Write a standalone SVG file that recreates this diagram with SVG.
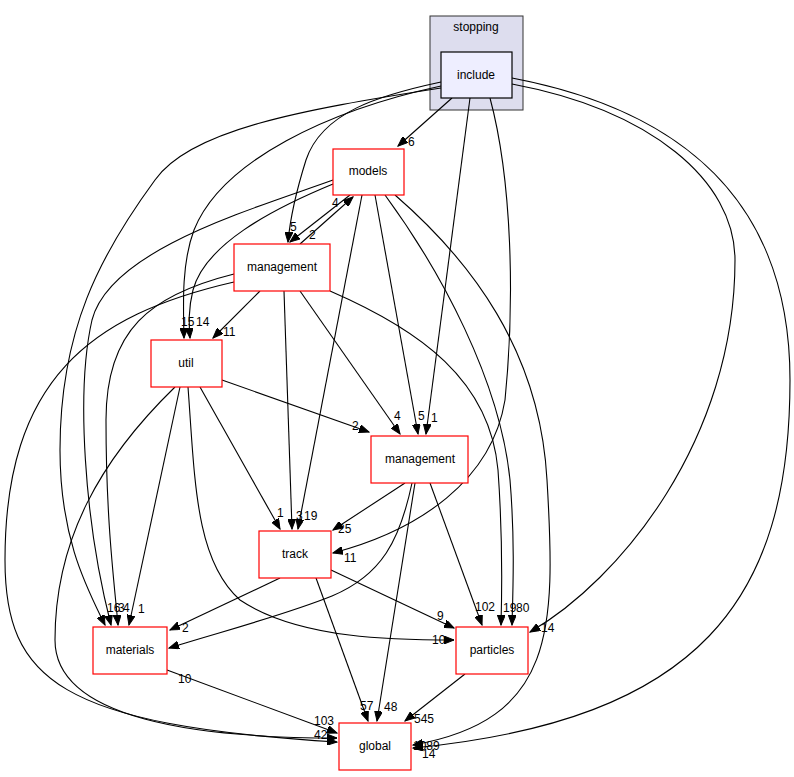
<svg xmlns="http://www.w3.org/2000/svg" width="794" height="777" viewBox="0 0 794 777">
<style>
text{font-family:"Liberation Sans",Arial,sans-serif;font-size:12px;fill:#000}
.n{fill:#fff;stroke:#ff0000;stroke-width:1.2}
.c{text-anchor:middle}
.e{fill:none;stroke:#000;stroke-width:1.1;marker-end:url(#ah)}
</style>
<defs>
<marker id="ah" markerUnits="userSpaceOnUse" markerWidth="11" markerHeight="8" refX="10" refY="4" orient="auto">
<path d="M0,0 L10,4 L0,8 z" fill="#000" stroke="#000"/>
</marker>
</defs>
<rect width="794" height="777" fill="#fff"/>
<g id="cluster_stopping">
<rect x="430" y="16" width="93" height="94" fill="#ddddee" stroke="#333"/>
<text class="c" x="476" y="31">stopping</text>
</g>
<g id="edges">
<path class="e" d="M452,98 L398,146"/>
<path class="e" d="M441,82 C380,95 322,112 306,160 C295,195 290,220 288,242"/>
<path class="e" d="M441,86 C330,110 222,160 194,230 C182,262 183,300 184,338"/>
<path class="e" d="M441,88 C300,110 190,130 155,180 C100,255 60,330 60,450 C60,540 88,590 105,625"/>
<path class="e" d="M470,98 L426,434"/>
<path class="e" d="M490,98 C512,180 515,300 505,400 C492,480 420,530 333,553"/>
<path class="e" d="M512,84 C650,110 735,180 735,260 C735,440 620,580 530,632"/>
<path class="e" d="M512,78 C680,110 790,200 790,380 C790,600 700,720 413,748"/>
<path class="e" d="M350,195 L290,242"/>
<path class="e" d="M300,244 L353,197"/>
<path class="e" d="M333,184 C270,210 205,245 193,290 C188,310 189,325 190,338"/>
<path class="e" d="M333,180 C250,210 110,250 92,320 C76,390 84,520 111,625"/>
<path class="e" d="M362,195 L298,529"/>
<path class="e" d="M375,195 L418,434"/>
<path class="e" d="M385,195 C440,270 500,380 510,480 C515,540 513,590 512,625"/>
<path class="e" d="M395,195 C470,260 540,350 547,480 C556,630 555,720 413,745"/>
<path class="e" d="M260,291 L213,338"/>
<path class="e" d="M284,291 L292,529"/>
<path class="e" d="M300,291 L400,434"/>
<path class="e" d="M234,274 C150,295 106,330 106,420 C106,520 114,580 118,625"/>
<path class="e" d="M234,282 C90,315 5,380 5,560 C5,680 60,725 337,742"/>
<path class="e" d="M330,291 C420,330 490,380 498,470 C503,540 502,590 501,625"/>
<path class="e" d="M222,380 L369,432"/>
<path class="e" d="M200,387 L280,529"/>
<path class="e" d="M180,387 L129,625"/>
<path class="e" d="M175,387 C100,460 55,540 55,640 C55,720 200,738 337,738"/>
<path class="e" d="M188,387 C195,480 195,560 240,600 C300,640 400,640 454,640"/>
<path class="e" d="M405,483 L333,530"/>
<path class="e" d="M412,483 C400,540 382,575 332,596 C282,616 220,632 169,648"/>
<path class="e" d="M415,483 L377,721"/>
<path class="e" d="M430,483 L482,625"/>
<path class="e" d="M280,578 L170,630"/>
<path class="e" d="M331,570 L454,628"/>
<path class="e" d="M316,578 L368,721"/>
<path class="e" d="M167,670 L337,733"/>
<path class="e" d="M465,674 L405,721"/>
</g>
<g id="edge_labels">
<text x="408" y="146">6</text>
<text x="290" y="231">5</text>
<text x="181" y="326">15</text>
<text x="196" y="326">14</text>
<text x="431" y="422">1</text>
<text x="344" y="562">11</text>
<text x="541" y="632">14</text>
<text x="422" y="758">14</text>
<text x="309" y="239">2</text>
<text x="332" y="207">4</text>
<text x="107" y="612">16</text>
<text x="118" y="612">3</text>
<text x="123" y="612">4</text>
<text x="138" y="613">1</text>
<text x="304" y="520">19</text>
<text x="418" y="420">5</text>
<text x="503" y="612">19</text>
<text x="516" y="612">80</text>
<text x="413" y="750">1089</text>
<text x="223" y="336">11</text>
<text x="296" y="520">3</text>
<text x="394" y="420">4</text>
<text x="314" y="739">42</text>
<text x="352" y="430">2</text>
<text x="277" y="517">1</text>
<text x="432" y="644">10</text>
<text x="338" y="533">25</text>
<text x="178" y="683">10</text>
<text x="384" y="711">48</text>
<text x="475" y="611">102</text>
<text x="182" y="632">2</text>
<text x="437" y="620">9</text>
<text x="360" y="710">57</text>
<text x="314" y="725">103</text>
<text x="414" y="723">545</text>
</g>
<g id="include">
<rect x="441" y="52" width="71" height="46" fill="#eeeeff" stroke="#000" stroke-width="1.2"/>
<text class="c" x="476" y="79">include</text>
</g>
<g id="models">
<rect class="n" x="333" y="149" width="71" height="46"/>
<text class="c" x="368" y="175">models</text>
</g>
<g id="management_top">
<rect class="n" x="234" y="244" width="96" height="47"/>
<text class="c" x="282" y="271">management</text>
</g>
<g id="util">
<rect class="n" x="151" y="340" width="71" height="47"/>
<text class="c" x="186" y="367">util</text>
</g>
<g id="management_mid">
<rect class="n" x="371" y="436" width="97" height="47"/>
<text class="c" x="420" y="463">management</text>
</g>
<g id="track">
<rect class="n" x="259" y="531" width="72" height="47"/>
<text class="c" x="295" y="558">track</text>
</g>
<g id="materials">
<rect class="n" x="93" y="627" width="74" height="47"/>
<text class="c" x="130" y="654">materials</text>
</g>
<g id="particles">
<rect class="n" x="456" y="627" width="72" height="47"/>
<text class="c" x="492" y="654">particles</text>
</g>
<g id="global">
<rect class="n" x="339" y="723" width="72" height="47"/>
<text class="c" x="375" y="750">global</text>
</g>
</svg>
